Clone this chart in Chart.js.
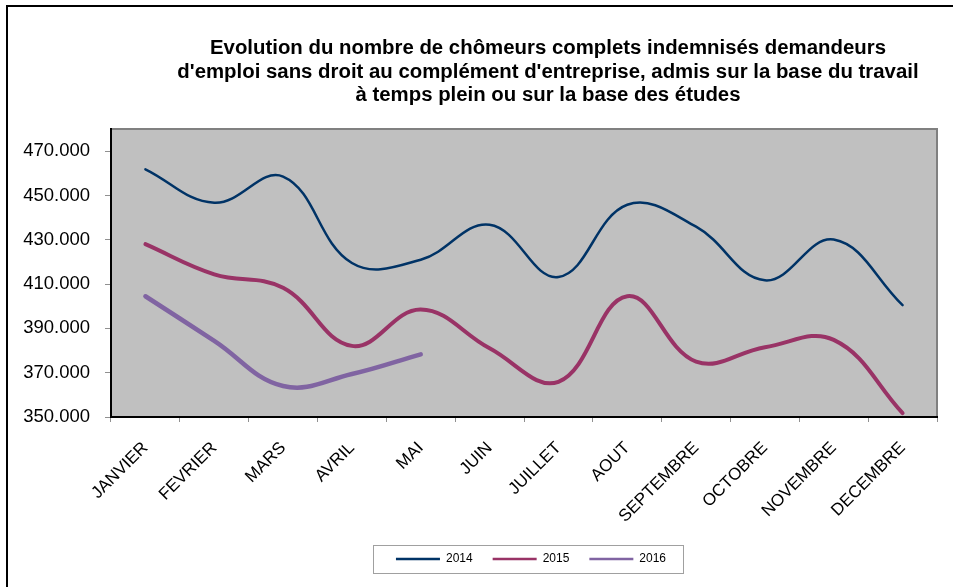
<!DOCTYPE html>
<html>
<head>
<meta charset="utf-8">
<script src="https://cdn.jsdelivr.net/npm/chart.js@4/dist/chart.umd.min.js"></script>
<style>
  html, body { margin: 0; padding: 0; background: #ffffff; }
  #wrap { position: relative; width: 953px; height: 587px; }
</style>
</head>
<body>
<div id="wrap"><canvas id="c" width="953" height="587"></canvas></div>
<script>
const titleLines = [
  "Evolution du nombre de chômeurs complets indemnisés demandeurs",
  "d'emploi sans droit au complément d'entreprise, admis sur la base du travail",
  "à temps plein ou sur la base des études"
];
const months = ['JANVIER','FEVRIER','MARS','AVRIL','MAI','JUIN','JUILLET','AOUT','SEPTEMBRE','OCTOBRE','NOVEMBRE','DECEMBRE'];
const s2014 = [461800, 446700, 458500, 419500, 421000, 436800, 413200, 445800, 435900, 411700, 430100, 400500];
const s2015 = [428000, 414400, 408300, 382100, 398500, 381000, 365900, 404500, 375000, 381500, 384800, 351800];
const s2016 = [404500, 384400, 364000, 369400, 378300];
const yTicks = [350000, 370000, 390000, 410000, 430000, 450000, 470000];
const yMin = 350000, yMax = 480000;

const FONT = "'Liberation Sans', Arial, sans-serif";

const decor = {
  id: 'decor',
  afterLayout(chart) {
    const lg = chart.legend;
    if (lg) { lg.left += 7; lg.right += 7; }
  },
  beforeDraw(chart) {
    const {ctx, chartArea: a} = chart;
    ctx.save();
    ctx.fillStyle = '#c0c0c0';
    ctx.fillRect(a.left, a.top, a.right - a.left, a.bottom - a.top);
    ctx.strokeStyle = '#808080';
    ctx.lineWidth = 2;
    ctx.beginPath();
    ctx.moveTo(a.left, a.top);
    ctx.lineTo(a.right, a.top);
    ctx.lineTo(a.right, a.bottom);
    ctx.stroke();
    // outer frame (top + left visible)
    ctx.strokeStyle = '#000';
    ctx.lineWidth = 2;
    ctx.beginPath();
    ctx.moveTo(7, chart.height);
    ctx.lineTo(7, 6);
    ctx.lineTo(chart.width, 6);
    ctx.stroke();
    // title
    ctx.fillStyle = '#000';
    ctx.font = "bold 19.5px " + FONT;
    ctx.textAlign = 'center';
    ctx.textBaseline = 'alphabetic';
    const cx = chart.width * 0.575;
    const sx = 1.045;
    ctx.translate(cx, 0);
    ctx.scale(sx, 1);
    titleLines.forEach((t, i) => ctx.fillText(t, 0, 54 + i * 23.5));
    ctx.restore();
  },
  afterDraw(chart) {
    const lg = chart.legend;
    if (!lg || !lg.legendHitBoxes || !lg.legendHitBoxes.length) return;
    const hb = lg.legendHitBoxes;
    const l = Math.min(...hb.map(h => h.left));
    const r = Math.max(...hb.map(h => h.left + h.width));
    const cy = hb[0].top + hb[0].height / 2;
    const ctx = chart.ctx;
    ctx.save();
    ctx.strokeStyle = '#a0a0a0';
    ctx.lineWidth = 1;
    ctx.strokeRect(Math.round(l - 23) + 0.5, Math.round(cy - 14) + 0.5, Math.round(r - l + 40), 28);
    ctx.restore();
  }
};

new Chart(document.getElementById('c'), {
  type: 'line',
  data: {
    labels: months,
    datasets: [
      { label: '2014', data: s2014, borderColor: '#003366', backgroundColor: '#003366', borderWidth: 2.5 },
      { label: '2015', data: s2015, borderColor: '#993366', backgroundColor: '#993366', borderWidth: 4 },
      { label: '2016', data: s2016, borderColor: '#8064a2', backgroundColor: '#8064a2', borderWidth: 4.5 }
    ]
  },
  options: {
    responsive: false,
    animation: false,
    devicePixelRatio: 1,
    elements: {
      line: { tension: 0.4, fill: false, borderCapStyle: 'round', borderJoinStyle: 'round' },
      point: { radius: 0, hoverRadius: 0 }
    },
    layout: { padding: { top: 129, right: 16, bottom: 12, left: 0 } },
    plugins: {
      title: { display: false },
      tooltip: { enabled: false },
      legend: {
        position: 'bottom',
        fullSize: false,
        labels: {
          usePointStyle: true,
          pointStyle: 'line',
          pointStyleWidth: 44,
          padding: 20,
          color: '#000',
          font: { family: FONT, size: 12 },
          generateLabels(chart) {
            const items = Chart.defaults.plugins.legend.labels.generateLabels(chart);
            items.forEach(it => { it.lineWidth = 2.5; it.pointStyle = 'line'; });
            return items;
          }
        }
      }
    },
    scales: {
      x: {
        type: 'category',
        offset: true,
        border: { display: true, color: '#000', width: 2 },
        grid: { display: true, offset: true, drawOnChartArea: false, drawTicks: true, tickLength: 5, color: '#909090' },
        ticks: {
          color: '#000',
          font: { family: FONT, size: 17 },
          minRotation: 45,
          maxRotation: 45,
          autoSkip: false,
          padding: 16
        },
        afterFit(scale) { scale.height = 116; }
      },
      y: {
        min: yMin,
        max: yMax,
        border: { display: true, color: '#000', width: 2 },
        grid: { display: true, drawOnChartArea: false, drawTicks: true, tickLength: 6, color: '#909090' },
        ticks: {
          color: '#000',
          font: { family: FONT, size: 18.5 },
          padding: 15,
          callback(v) { return (v / 1000).toFixed(3); }
        },
        afterBuildTicks(scale) { scale.ticks = yTicks.map(v => ({ value: v })); },
        afterFit(scale) { scale.width = 111; }
      }
    }
  },
  plugins: [decor]
});
</script>
</body>
</html>
